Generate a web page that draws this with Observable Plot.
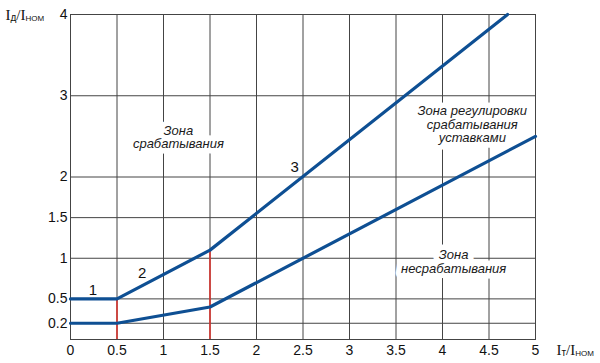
<!DOCTYPE html>
<html><head><meta charset="utf-8">
<script src="https://cdn.jsdelivr.net/npm/d3@7"></script>
<script src="https://cdn.jsdelivr.net/npm/@observablehq/plot@0.6"></script>
<style>body{margin:0;background:#fff}</style>
</head><body><div id="chart"></div>
<script>
const xTicks = [0,0.5,1,1.5,2,2.5,3,3.5,4,4.5,5];
const yTicks = [0.2,0.5,1,1.5,2,3,4];
const upperX = [0,0.5,1.5,4.7];
const upperY = [0.5,0.5,1.1,4];
const lowerX = [0,0.5,1.5,5];
const lowerY = [0.2,0.2,0.4,2.5];
const redX = [0.5,1.5];
const redTop = [0.5,1.1];
const curveLabels = ["1","2","3"];
const curveLabelX = [0.24,0.77,2.41];
const curveLabelY = [0.61,0.82,2.12];
const zoneLabels = ["Зона\nсрабатывания","Зона регулировки\nсрабатывания\nуставками","Зона\nнесрабатывания"];
const zoneX = [1.16,4.32,4.12];
const zoneY = [2.49,2.65,0.96];
const yLabel = "Iд/Iном";
const xLabel = "Iт/Iном";

const upper = upperX.map((x,i)=>({x, y:upperY[i]}));
const lower = lowerX.map((x,i)=>({x, y:lowerY[i]}));
const reds = redX.map((x,i)=>({x, y1:0, y2:redTop[i]}));
const curves = curveLabels.map((t,i)=>({t, x:curveLabelX[i], y:curveLabelY[i]}));
const zones = zoneLabels.map((t,i)=>({t, x:zoneX[i], y:zoneY[i]}));

const blue = "#0e4f93";
const gridColor = "#444";

const zoneOpts = {x: "x", y: "y", text: "t", fontStyle: "italic", fontSize: 13, lineHeight: 1.05};

const plot = Plot.plot({
  width: 600, height: 363,
  marginLeft: 70, marginRight: 65, marginTop: 14, marginBottom: 24,
  style: {fontFamily: "'Liberation Sans', Arial, sans-serif", fontSize: "14px", color: "#111", background: "#fff"},
  x: {domain: [0,5]},
  y: {domain: [0,4]},
  marks: [
    Plot.gridX(xTicks, {stroke: gridColor, strokeOpacity: 1, strokeWidth: 1}),
    Plot.gridY(yTicks, {stroke: gridColor, strokeOpacity: 1, strokeWidth: 1}),
    Plot.frame({stroke: gridColor, strokeWidth: 1}),
    Plot.axisX({ticks: xTicks, tickSize: 0, tickPadding: 6, label: null, tickFormat: d => String(d)}),
    Plot.axisY({ticks: yTicks, tickSize: 0, tickPadding: 3, label: null, tickFormat: d => String(d)}),
    Plot.ruleX(reds, {x: "x", y1: "y1", y2: "y2", stroke: "#d7342e", strokeWidth: 1.6}),
    // white backing behind zone labels (covers gridlines)
    Plot.text(zones, {...zoneOpts, fill: "white", stroke: "white", strokeWidth: 11, strokeLinejoin: "round", ariaHidden: "true"}),
    Plot.text(zones, {...zoneOpts, fill: "#1a1a1a"}),
    Plot.line(upper, {x: "x", y: "y", stroke: blue, strokeWidth: 3.2}),
    Plot.line(lower, {x: "x", y: "y", stroke: blue, strokeWidth: 3.2}),
    Plot.text(curves, {x: "x", y: "y", text: "t", fontSize: 15, fill: "#111"}),
    Plot.text([yLabel], {frameAnchor: "top-left", dx: -65, dy: 1, textAnchor: "start", lineAnchor: "middle", className: "axlab"}),
    Plot.text([xLabel], {frameAnchor: "bottom-right", dx: 21, dy: 11, textAnchor: "start", lineAnchor: "middle", className: "axlab"})
  ]
});

// style axis labels: serif capital I, small subscripts
d3.select(plot).selectAll(".axlab text").each(function() {
  const el = d3.select(this);
  const s = el.text();
  const m = s.match(/^I(.)\/I(.+)$/);
  if (!m) return;
  el.text(null);
  const serif = "'Liberation Serif', 'Times New Roman', serif";
  el.append("tspan").attr("font-family", serif).attr("font-size", 15).text("I");
  el.append("tspan").attr("font-size", 10).attr("dy", 1).text(m[1]);
  el.append("tspan").attr("font-family", serif).attr("font-size", 15).attr("dy", -1).text("/I");
  el.append("tspan").attr("font-size", 11).attr("font-variant", "small-caps").attr("dy", 1).text(m[2]);
});

document.getElementById("chart").append(plot);
</script>
</body></html>
